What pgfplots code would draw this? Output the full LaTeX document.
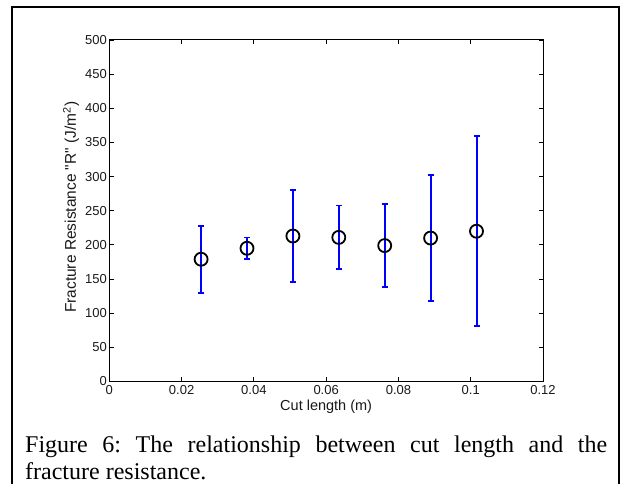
\documentclass[border=0pt]{standalone}
\usepackage{fontspec}
\setmainfont{Liberation Serif}
\newfontfamily\arial{Liberation Sans}
\usepackage{pgfplots}
\pgfplotsset{compat=1.18}
\frenchspacing

% Cut length (m), mean fracture resistance R (J/m^2) and its spread
\begin{document}
\begin{tikzpicture}[x=1pt,y=1pt]
\useasboundingbox (0,0) rectangle (621,484);
% figure frame
\draw[line width=1.8pt] (12,-3) -- (12,477) -- (619,477) -- (619,-3);
\begin{axis}[
  at={(109.3pt,102.5pt)}, anchor=south west,
  width=433.7pt, height=341.5pt, scale only axis,
  xmin=0, xmax=0.12, ymin=0, ymax=500,
  xtick={0,0.02,0.04,0.06,0.08,0.1,0.12},
  ytick={0,50,100,150,200,250,300,350,400,450,500},
  scaled x ticks=false,
  xticklabel style={/pgf/number format/fixed, /pgf/number format/precision=2},
  /pgf/number format/assume math mode=true,
  tick label style={font=\arial\fontsize{13}{15}\selectfont, text=black!90},
  yticklabel style={xshift=1pt},
  tick align=inside,
  major tick length=4.5pt,
  tick style={line width=0.8pt, black},
  axis line style={line width=1pt},
  xlabel={Cut length (m)},
  ylabel={Fracture Resistance "R" (J/m\textsuperscript{2})},
  every axis x label/.style={at={(axis description cs:0.5,-0.075)}, anchor=center,
    font=\arial\fontsize{14.5}{16}\selectfont, text=black!90},
  every axis y label/.style={at={(axis description cs:-0.088,0.51)}, anchor=center, rotate=90,
    font=\arial\fontsize{15.5}{17}\selectfont, text=black!90},
]
\addplot[only marks, mark=o, mark size=6.5pt, black,
  mark options={line width=1.8pt, black},
  error bars/.cd, y dir=both, y explicit,
  error bar style={blue, line width=2pt},
  error mark options={blue, mark size=3pt, line width=1.6pt, rotate=90}]
  table[x=x, y=y, y error=e] {
  x      y     e
  0.0254 179   49
  0.0381 195   16
  0.0508 213   67
  0.0635 211   46.5
  0.0762 199   61
  0.0889 210   92
  0.1016 220   139
};
\end{axis}
% caption
\node[anchor=base west, inner sep=0, font=\fontsize{24}{27}\selectfont] at (25,31.5)
  {\makebox[582pt][s]{Figure 6: The relationship between cut length and the}};
\node[anchor=base west, inner sep=0, font=\fontsize{24}{27}\selectfont] at (25,4.5)
  {fracture resistance.};
\end{tikzpicture}
\end{document}
